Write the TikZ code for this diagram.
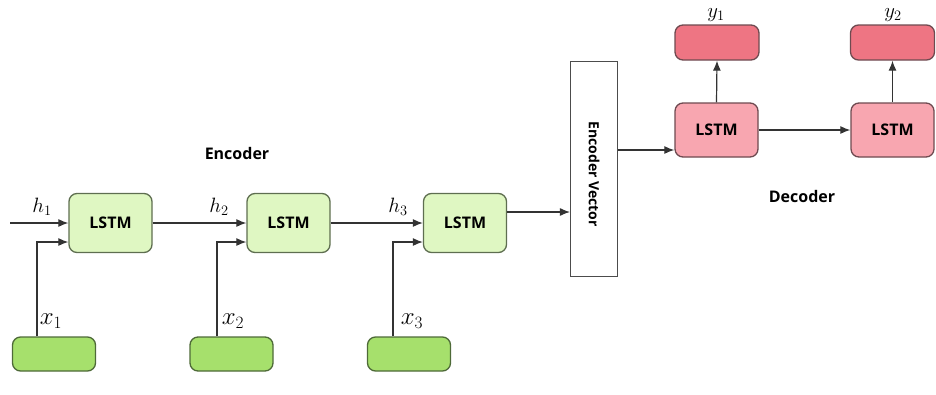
\documentclass[tikz,border=0pt]{standalone}
\usepackage{fontspec}
\newfontfamily\boxfont{Open Sans}
\usetikzlibrary{positioning, arrows.meta}

\definecolor{encfill}{HTML}{DFF7C2}
\definecolor{encdraw}{HTML}{5E6E50}
\definecolor{infill}{HTML}{A6E06C}
\definecolor{indraw}{HTML}{4E6A38}
\definecolor{decfill}{HTML}{F8A6B0}
\definecolor{outfill}{HTML}{EE7583}
\definecolor{decdraw}{HTML}{6E4A50}

\tikzset{
  lstmenc/.style={draw=encdraw, line width=1.3pt, fill=encfill, rounded corners=8pt,
    minimum width=83pt, minimum height=59pt, font=\boxfont\bfseries\fontsize{16}{18}\selectfont},
  inbox/.style={draw=indraw, line width=1.3pt, fill=infill, rounded corners=8pt,
    minimum width=83pt, minimum height=34pt},
  lstmdec/.style={draw=decdraw, line width=1.3pt, fill=decfill, rounded corners=8pt,
    minimum width=83pt, minimum height=54pt, font=\boxfont\bfseries\fontsize{16}{18}\selectfont},
  outbox/.style={draw=decdraw, line width=1.3pt, fill=outfill, rounded corners=8pt,
    minimum width=84pt, minimum height=35pt},
  vecbox/.style={draw=black!70, line width=1.1pt, fill=white, minimum width=47pt, minimum height=215pt},
  title/.style={font=\boxfont\bfseries\fontsize{16}{18}\selectfont},
  hlab/.style={font=\fontsize{20}{22}\selectfont},
  xlab/.style={font=\fontsize{24}{26}\selectfont, inner sep=1pt},
  ylab/.style={font=\fontsize{22}{24}\selectfont, inner sep=0pt},
  flow/.style={-{Latex[length=10pt,width=8pt]}, line width=1.2pt, draw=black!80}
}

\begin{document}
\begin{tikzpicture}[x=1pt, y=-1pt]
\useasboundingbox (0,0) rectangle (936,394);

% encoder
\node[lstmenc] (enc1) at (110.5,223) {LSTM};
\node[lstmenc] (enc2) at (288.5,223) {LSTM};
\node[lstmenc] (enc3) at (465,223) {LSTM};
\node[inbox] (in1) at (54,354) {};
\node[inbox] (in2) at (231.5,354) {};
\node[inbox] (in3) at (409,354) {};
\coordinate (h0) at (10,223);

\node[hlab] (lh1) at (42,207) {$h_1$};
\node[hlab] (lh2) at (219,207) {$h_2$};
\node[hlab] (lh3) at (398,207) {$h_3$};
\node[xlab] (lx1) at (51,321) {$x_1$};
\node[xlab] (lx2) at (233,321) {$x_2$};
\node[xlab] (lx3) at (412,321) {$x_3$};
\node[title] (enctitle) at (237,153) {Encoder};

\draw[flow] (h0) -- (enc1.west);
\draw[flow] (enc1.east) -- (enc2.west);
\draw[flow] (enc2.east) -- (enc3.west);
\draw[flow] ([xshift=-17pt]in1.north) |- ([yshift=-19pt]enc1.west);
\draw[flow] ([xshift=-14.5pt]in2.north) |- ([yshift=-19pt]enc2.west);
\draw[flow] ([xshift=-16pt]in3.north) |- ([yshift=-19pt]enc3.west);

% encoder vector
\node[vecbox] (ev) at (594,169) {};
\node[title, font=\boxfont\bfseries\fontsize{14}{16}\selectfont, rotate=-90] (evtext) at (594,174) {Encoder Vector};
\draw[flow] ([yshift=11pt]enc3.east) -- ([yshift=11pt]enc3.east -| ev.west);

% decoder
\node[lstmdec] (dec1) at (716.5,130) {LSTM};
\node[lstmdec] (dec2) at (892.5,130) {LSTM};
\node[outbox] (out1) at (717,42.5) {};
\node[outbox] (out2) at (892.5,42.5) {};
\node[ylab] (ly1) at (716,15) {$y_1$};
\node[ylab] (ly2) at (893,15) {$y_2$};
\node[title] (dectitle) at (802,196) {Decoder};

\draw[flow] ([yshift=-20pt]dec1.west -| ev.east) -- ([yshift=-20pt]dec1.west);
\draw[flow] (dec1.east) -- (dec2.west);
\draw[flow] (dec1.north) -- (out1.south);
\draw[flow] (dec2.north) -- (out2.south);
\end{tikzpicture}
\end{document}
